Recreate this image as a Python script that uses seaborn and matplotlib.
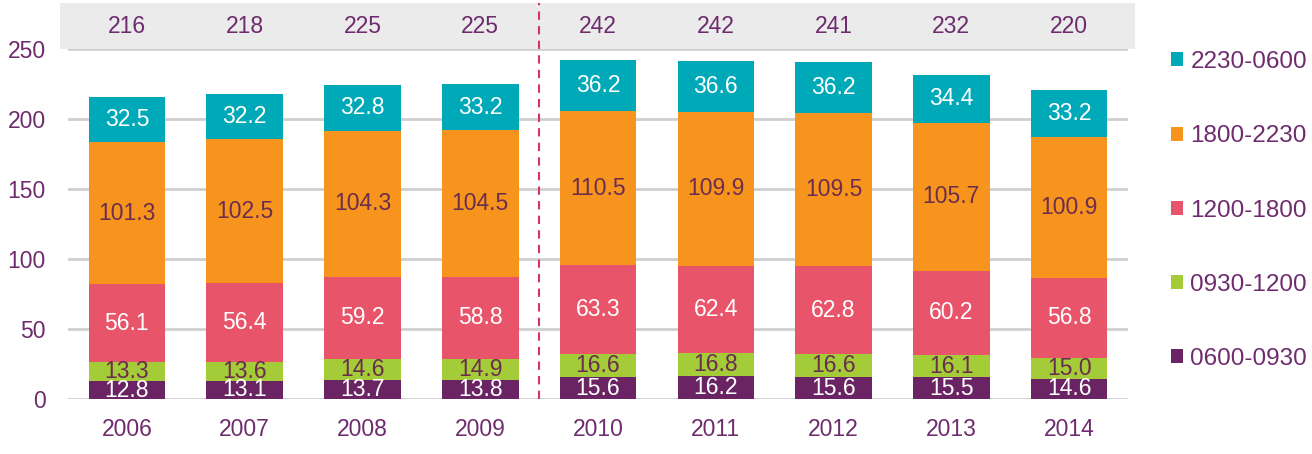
import numpy as np
import pandas as pd
import matplotlib
matplotlib.use("Agg")
import matplotlib.pyplot as plt
import matplotlib.transforms as mtransforms
from matplotlib.patches import Patch, Rectangle
import seaborn as sns

years = ["2006", "2007", "2008", "2009", "2010", "2011", "2012", "2013", "2014"]
bands = ["0600-0930", "0930-1200", "1200-1800", "1800-2230", "2230-0600"]
v_0600_0930 = [12.8, 13.1, 13.7, 13.8, 15.6, 16.2, 15.6, 15.5, 14.6]
v_0930_1200 = [13.3, 13.6, 14.6, 14.9, 16.6, 16.8, 16.6, 16.1, 15.0]
v_1200_1800 = [56.1, 56.4, 59.2, 58.8, 63.3, 62.4, 62.8, 60.2, 56.8]
v_1800_2230 = [101.3, 102.5, 104.3, 104.5, 110.5, 109.9, 109.5, 105.7, 100.9]
v_2230_0600 = [32.5, 32.2, 32.8, 33.2, 36.2, 36.6, 36.2, 34.4, 33.2]
totals = [216, 218, 225, 225, 242, 242, 241, 232, 220]

colors = {"0600-0930": "#6a2363", "0930-1200": "#a4cb38", "1200-1800": "#e8546a",
          "1800-2230": "#f7941e", "2230-0600": "#00a9b8"}
label_colors = {"0600-0930": "white", "0930-1200": "#6b2d4e", "1200-1800": "white",
                "1800-2230": "#6b2d4e", "2230-0600": "white"}
purple = "#6e2c6e"
fs = 16.5

df = pd.DataFrame({"year": years, "0600-0930": v_0600_0930, "0930-1200": v_0930_1200,
                   "1200-1800": v_1200_1800, "1800-2230": v_1800_2230,
                   "2230-0600": v_2230_0600})
cum = df[bands].cumsum(axis=1)
bottoms = cum - df[bands]

sns.set_style("white")
plt.rcParams["font.family"] = ["Liberation Sans", "DejaVu Sans"]

fig = plt.figure(figsize=(13.12, 4.54), dpi=100)
ax = fig.add_axes([68 / 1312, 55 / 454, 1060 / 1312, 396 / 454])

# stacked bars: draw cumulative heights from the top layer down
for b in bands[::-1]:
    sns.barplot(x=df["year"], y=cum[b], color=colors[b], saturation=1, width=0.65,
                ax=ax, zorder=2, linewidth=0)

for i in range(len(years)):
    for b in bands:
        ax.text(i, bottoms.loc[i, b] + df.loc[i, b] / 2, f"{df.loc[i, b]:.1f}",
                ha="center", va="center", fontsize=fs, color=label_colors[b], zorder=4)

# grey totals band above the plot
trans = mtransforms.blended_transform_factory(ax.transAxes, ax.transData)
ax.add_patch(Rectangle((-0.0075, 250), 1.0141, 33, transform=trans, facecolor="#ebebeb",
                       edgecolor="none", clip_on=False, zorder=1))
for i, t in enumerate(totals):
    ax.text(i, 266.5, str(t), ha="center", va="center", fontsize=fs, color=purple, zorder=4)

ax.plot([3.5, 3.5], [0, 283], linestyle=(0, (4, 3)), color="#d6336c", linewidth=1.5,
        zorder=3)

ax.set_xlim(-0.5, 8.5)
ax.set_ylim(0, 283)
ax.set_yticks([0, 50, 100, 150, 200, 250])
ax.yaxis.grid(True, color="#cfcfcf", linewidth=2)
ax.set_axisbelow(True)
for s in ax.spines.values():
    s.set_visible(False)
ax.tick_params(axis="both", length=0, labelsize=fs, labelcolor=purple)
ax.tick_params(axis="y", pad=16)
ax.tick_params(axis="x", pad=14)
ax.set_xlabel("")
ax.set_ylabel("")

handles = [Patch(facecolor=colors[b], edgecolor="none", label=b) for b in bands[::-1]]
fig.legend(handles=handles, loc="upper left", bbox_to_anchor=(1171 / 1312, 403 / 454),
           frameon=False, fontsize=17.5, labelcolor=purple, handlelength=0.5,
           handleheight=0.5, handletextpad=0.3, labelspacing=2.15, borderpad=0,
           borderaxespad=0)

fig.savefig("out.png", dpi=100, facecolor="white")
